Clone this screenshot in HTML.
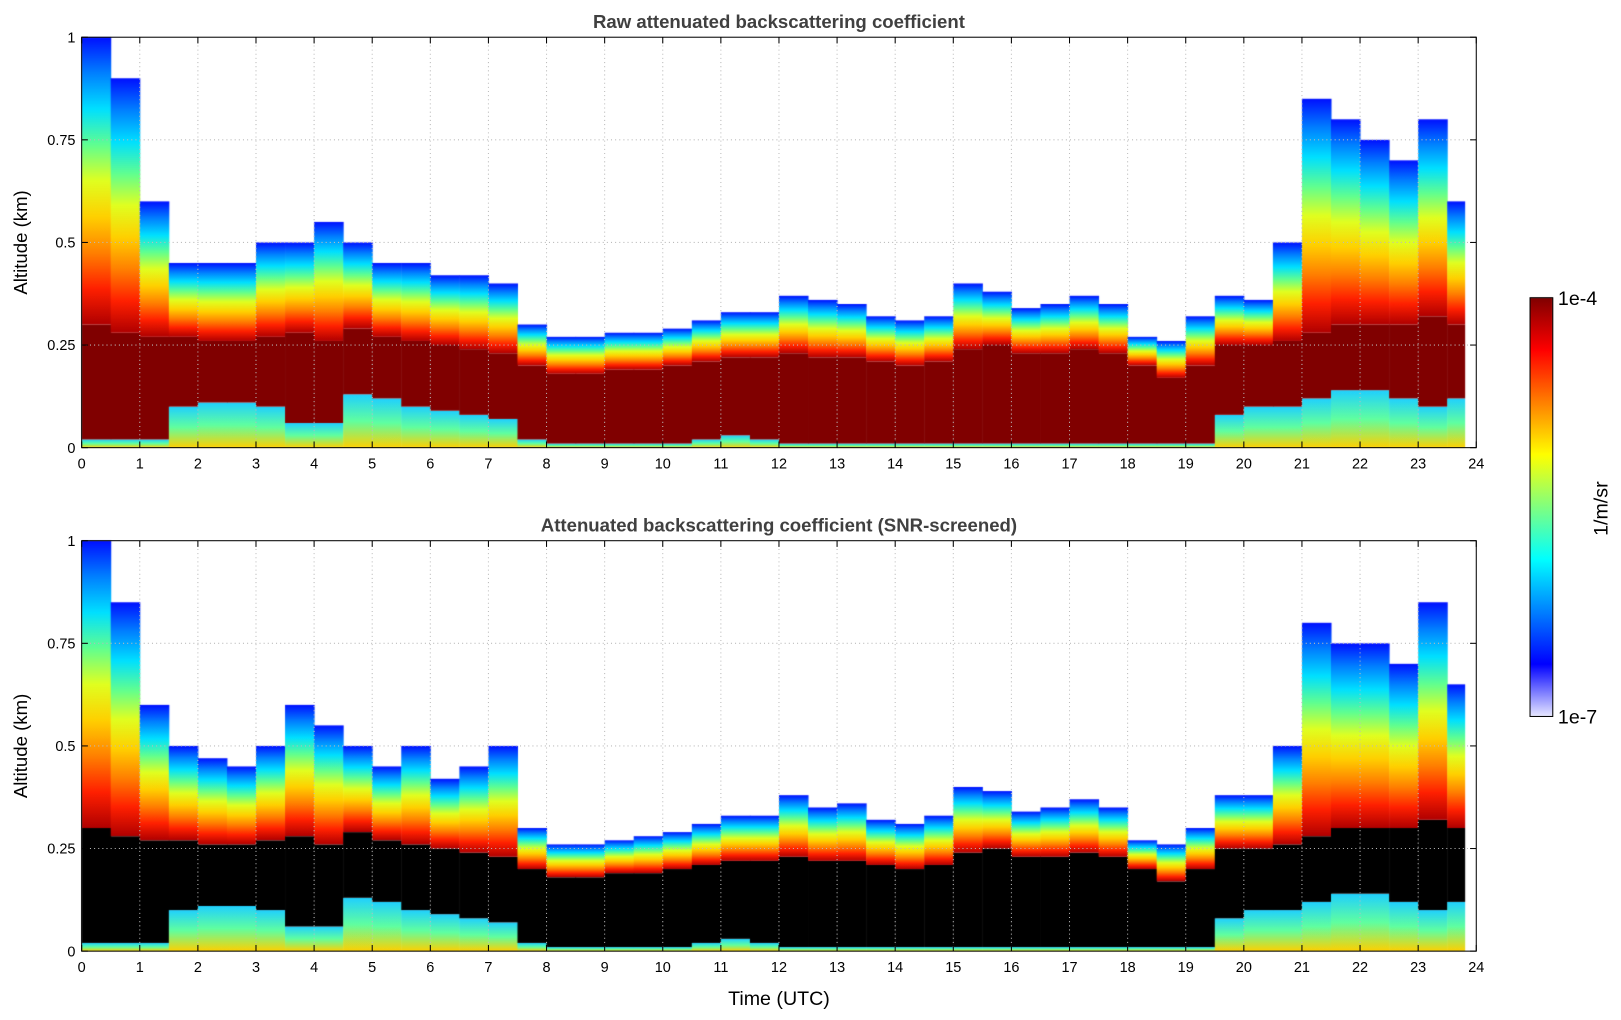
<!DOCTYPE html>
<html><head><meta charset="utf-8">
<style>
body{margin:0;background:#fff;width:1621px;height:1020px;overflow:hidden;font-family:"Liberation Sans","DejaVu Sans",sans-serif}
#wrap{position:relative;width:1621px;height:1020px}
canvas{position:absolute;left:0;top:0}
svg{position:absolute;left:0;top:0}
</style></head><body>
<div id="wrap">
<canvas id="cv" width="1621" height="1020"></canvas>
<svg id="sv" width="1621" height="1020" viewBox="0 0 1568 986.6" preserveAspectRatio="none"></svg>
</div>
<script>
// Data (half-hour bins, altitude in km)
const times = [0,0.5,1,1.5,2,2.5,3,3.5,4,4.5,5,5.5,6,6.5,7,7.5,8,8.5,9,9.5,10,10.5,11,11.5,12,12.5,13,13.5,14,14.5,15,15.5,16,16.5,17,17.5,18,18.5,19,19.5,20,20.5,21,21.5,22,22.5,23,23.5];
const layerTopRaw = [1.0,0.9,0.6,0.45,0.45,0.45,0.5,0.5,0.55,0.5,0.45,0.45,0.42,0.42,0.4,0.3,0.27,0.27,0.28,0.28,0.29,0.31,0.33,0.33,0.37,0.36,0.35,0.32,0.31,0.32,0.4,0.38,0.34,0.35,0.37,0.35,0.27,0.26,0.32,0.37,0.36,0.5,0.85,0.8,0.75,0.7,0.8,0.6];
const layerTopSnr = [1.0,0.85,0.6,0.5,0.47,0.45,0.5,0.6,0.55,0.5,0.45,0.5,0.42,0.45,0.5,0.3,0.26,0.26,0.27,0.28,0.29,0.31,0.33,0.33,0.38,0.35,0.36,0.32,0.31,0.33,0.4,0.39,0.34,0.35,0.37,0.35,0.27,0.26,0.3,0.38,0.38,0.5,0.8,0.75,0.75,0.7,0.85,0.65];
const coreTop = [0.3,0.28,0.27,0.27,0.26,0.26,0.27,0.28,0.26,0.29,0.27,0.26,0.25,0.24,0.23,0.2,0.18,0.18,0.19,0.19,0.2,0.21,0.22,0.22,0.23,0.22,0.22,0.21,0.2,0.21,0.24,0.25,0.23,0.23,0.24,0.23,0.2,0.17,0.2,0.25,0.25,0.26,0.28,0.3,0.3,0.3,0.32,0.3];
const coreBottom = [0.02,0.02,0.02,0.1,0.11,0.11,0.1,0.06,0.06,0.13,0.12,0.1,0.09,0.08,0.07,0.02,0.01,0.01,0.01,0.01,0.01,0.02,0.03,0.02,0.01,0.01,0.01,0.01,0.01,0.01,0.01,0.01,0.01,0.01,0.01,0.01,0.01,0.01,0.01,0.08,0.1,0.1,0.12,0.14,0.14,0.12,0.1,0.12];
const xTicks = [0,1,2,3,4,5,6,7,8,9,10,11,12,13,14,15,16,17,18,19,20,21,22,23,24];
const yTicks = [0,0.25,0.5,0.75,1];
const yTickLabels = ["0","0.25","0.5","0.75","1"];

const L=79,R=1428;
const panels=[{top:36,bot:433,title:"Raw attenuated backscattering coefficient",tops:layerTopRaw,core:"#800000",name:"raw"},
              {top:523,bot:920,title:"Attenuated backscattering coefficient (SNR-screened)",tops:layerTopSnr,core:"#000000",name:"snr"}];
const xs=t=>L+(R-L)*t/24;
const ctx=document.getElementById('cv').getContext('2d');
ctx.scale(1621/1568,1020/986.6);
const jet=["#b00000","#ff2000","#ff8000","#ffd000","#e0ff20","#60ff90","#00e0ff","#0080ff","#0010ff"];
panels.forEach(p=>{
  const ys=a=>p.bot-(p.bot-p.top)*a;
  for(let i=0;i<times.length;i++){
    const x0=xs(times[i]), x1=xs(Math.min(times[i]+0.5,23.8));
    if(x1<=x0) continue;
    const w=x1-x0+0.5;
    const g0=ctx.createLinearGradient(0,ys(0),0,ys(coreBottom[i]));
    g0.addColorStop(0,"#ffd000");g0.addColorStop(0.5,"#60ffa0");g0.addColorStop(1,"#20d0ff");
    ctx.fillStyle=g0;ctx.fillRect(x0,ys(coreBottom[i]),w,ys(0)-ys(coreBottom[i]));
    ctx.fillStyle=p.core;ctx.fillRect(x0,ys(coreTop[i]),w,ys(coreBottom[i])-ys(coreTop[i]));
    const t=Math.max(p.tops[i],coreTop[i]);
    const g=ctx.createLinearGradient(0,ys(coreTop[i]),0,ys(t));
    jet.forEach((c,k)=>g.addColorStop(k/(jet.length-1),c));
    ctx.fillStyle=g;ctx.fillRect(x0,ys(t),w,ys(coreTop[i])-ys(t));
  }
});
const cg=ctx.createLinearGradient(0,288,0,693);
["#800000","#ff0000","#ff8000","#ffff00","#80ff80","#00ffff","#0080ff","#0000ff","#e8e8ff"].forEach((c,k,a)=>cg.addColorStop(k/(a.length-1),c));
ctx.fillStyle=cg;ctx.fillRect(1480,288,22,405);

const sv=document.getElementById('sv');const NS="http://www.w3.org/2000/svg";
function mk(tag,attrs,parent){const e=document.createElementNS(NS,tag);for(const k in attrs)e.setAttribute(k,attrs[k]);(parent||sv).appendChild(e);return e;}
panels.forEach(p=>{
  const ys=a=>p.bot-(p.bot-p.top)*a;
  const g=mk('g',{});
  
  
  xTicks.forEach(t=>{
    const x=xs(t);
    if(t>0&&t<24){const gl=mk('line',{x1:x,x2:x,y1:p.top,y2:p.bot,stroke:"#bbb","stroke-dasharray":"1,3","stroke-width":1},g);
      }
    mk('line',{x1:x,x2:x,y1:p.bot,y2:p.bot-6,stroke:"#000"},g);
    mk('line',{x1:x,x2:x,y1:p.top,y2:p.top+6,stroke:"#000"},g);
    const tx=mk('text',{x:x,y:p.bot+20,"text-anchor":"middle","font-size":14},g);tx.textContent=t;
    
  });
  yTicks.forEach((v,k)=>{
    const y=ys(v);
    if(v>0&&v<1){const gl=mk('line',{x1:L,x2:R,y1:y,y2:y,stroke:"#bbb","stroke-dasharray":"1,3"},g);
      }
    mk('line',{x1:L,x2:L+6,y1:y,y2:y,stroke:"#000"},g);
    mk('line',{x1:R,x2:R-6,y1:y,y2:y,stroke:"#000"},g);
    const tx=mk('text',{x:L-6,y:y+5,"text-anchor":"end","font-size":14},g);tx.textContent=yTickLabels[k];
    
  });
  const fr=mk('rect',{x:L,y:p.top,width:R-L,height:p.bot-p.top,fill:"none",stroke:"#000","stroke-width":1},g);
  
  const ti=mk('text',{x:(L+R)/2,y:p.top-9,"text-anchor":"middle","font-size":18,"font-weight":"bold",fill:"#404040"},g);ti.textContent=p.title;
  
  const yl=mk('text',{x:0,y:0,"text-anchor":"middle","font-size":18,transform:`translate(26,${(p.top+p.bot)/2}) rotate(-90)`},g);yl.textContent="Altitude (km)";
  
});
const xl=mk('text',{x:(L+R)/2,y:972,"text-anchor":"middle","font-size":19});xl.textContent="Time (UTC)";

const cb=mk('rect',{x:1480,y:288,width:22,height:405,fill:"none",stroke:"#000"});

const c1=mk('text',{x:1507,y:295,"font-size":19});c1.textContent="1e-4";

const c2=mk('text',{x:1507,y:700,"font-size":19});c2.textContent="1e-7";

const cu=mk('text',{x:0,y:0,"text-anchor":"middle","font-size":19,transform:"translate(1555,492) rotate(-90)"});cu.textContent="1/m/sr";

</script>
</body></html>
